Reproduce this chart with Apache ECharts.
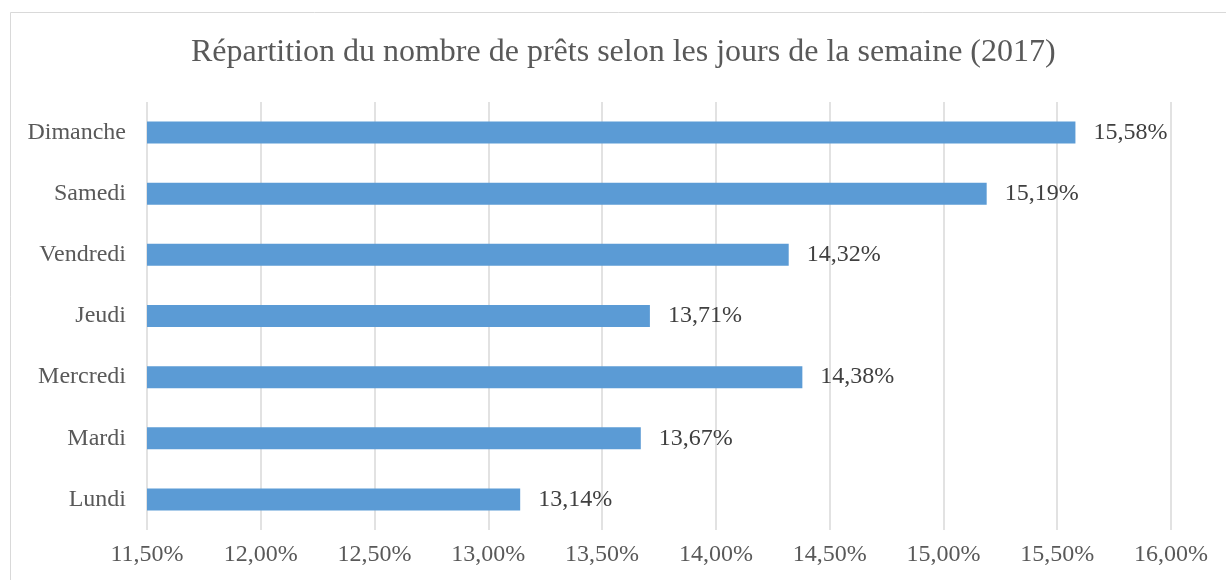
<!DOCTYPE html>
<html>
<head>
<meta charset="utf-8">
<script src="https://cdn.jsdelivr.net/npm/echarts@6/dist/echarts.min.js"></script>
<style>
html,body{margin:0;padding:0;background:#fff;}
#c{width:1226px;height:580px;}
</style>
</head>
<body>
<div id="c"></div>
<script>
const titleText = 'Répartition du nombre de prêts selon les jours de la semaine (2017)';
const categories = ['Lundi', 'Mardi', 'Mercredi', 'Jeudi', 'Vendredi', 'Samedi', 'Dimanche'];
const values = [13.14, 13.67, 14.38, 13.71, 14.32, 15.19, 15.58];
const axisMin = 11.5, axisMax = 16, axisStep = 0.5;

const fmt = v => Number(v).toFixed(2).replace('.', ',') + '%';
const FONT = '"Liberation Serif", "Times New Roman", serif';

const chart = echarts.init(document.getElementById('c'), null, {renderer: 'canvas'});
chart.setOption({
  backgroundColor: '#ffffff',
  animation: false,
  graphic: [{
    type: 'rect',
    shape: {x: 10.5, y: 12.5, width: 1400, height: 800},
    style: {fill: 'none', stroke: '#d9d9d9', lineWidth: 1},
    silent: true
  }],
  title: {
    text: titleText,
    left: 186,
    top: 32,
    textStyle: {fontFamily: FONT, fontSize: 32, fontWeight: 'normal', color: '#595959'}
  },
  grid: {left: 147, right: 55, top: 102, bottom: 50, containLabel: false},
  xAxis: {
    type: 'value',
    min: axisMin, max: axisMax, interval: axisStep,
    axisLine: {show: false},
    axisTick: {show: false},
    splitLine: {show: true, lineStyle: {color: '#d9d9d9', width: 1.5}},
    axisLabel: {
      formatter: fmt, margin: 13,
      fontFamily: FONT, fontSize: 24, color: '#595959'
    }
  },
  yAxis: {
    type: 'category',
    data: categories,
    axisLine: {show: false},
    axisTick: {show: false},
    axisLabel: {margin: 21, fontFamily: FONT, fontSize: 24, color: '#595959'}
  },
  series: [{
    type: 'bar',
    data: values,
    barWidth: 22,
    itemStyle: {color: '#5b9bd5'},
    label: {
      show: true, position: 'right', distance: 18,
      formatter: p => fmt(p.value),
      fontFamily: FONT, fontSize: 24, color: '#404040'
    }
  }]
});
</script>
</body>
</html>
